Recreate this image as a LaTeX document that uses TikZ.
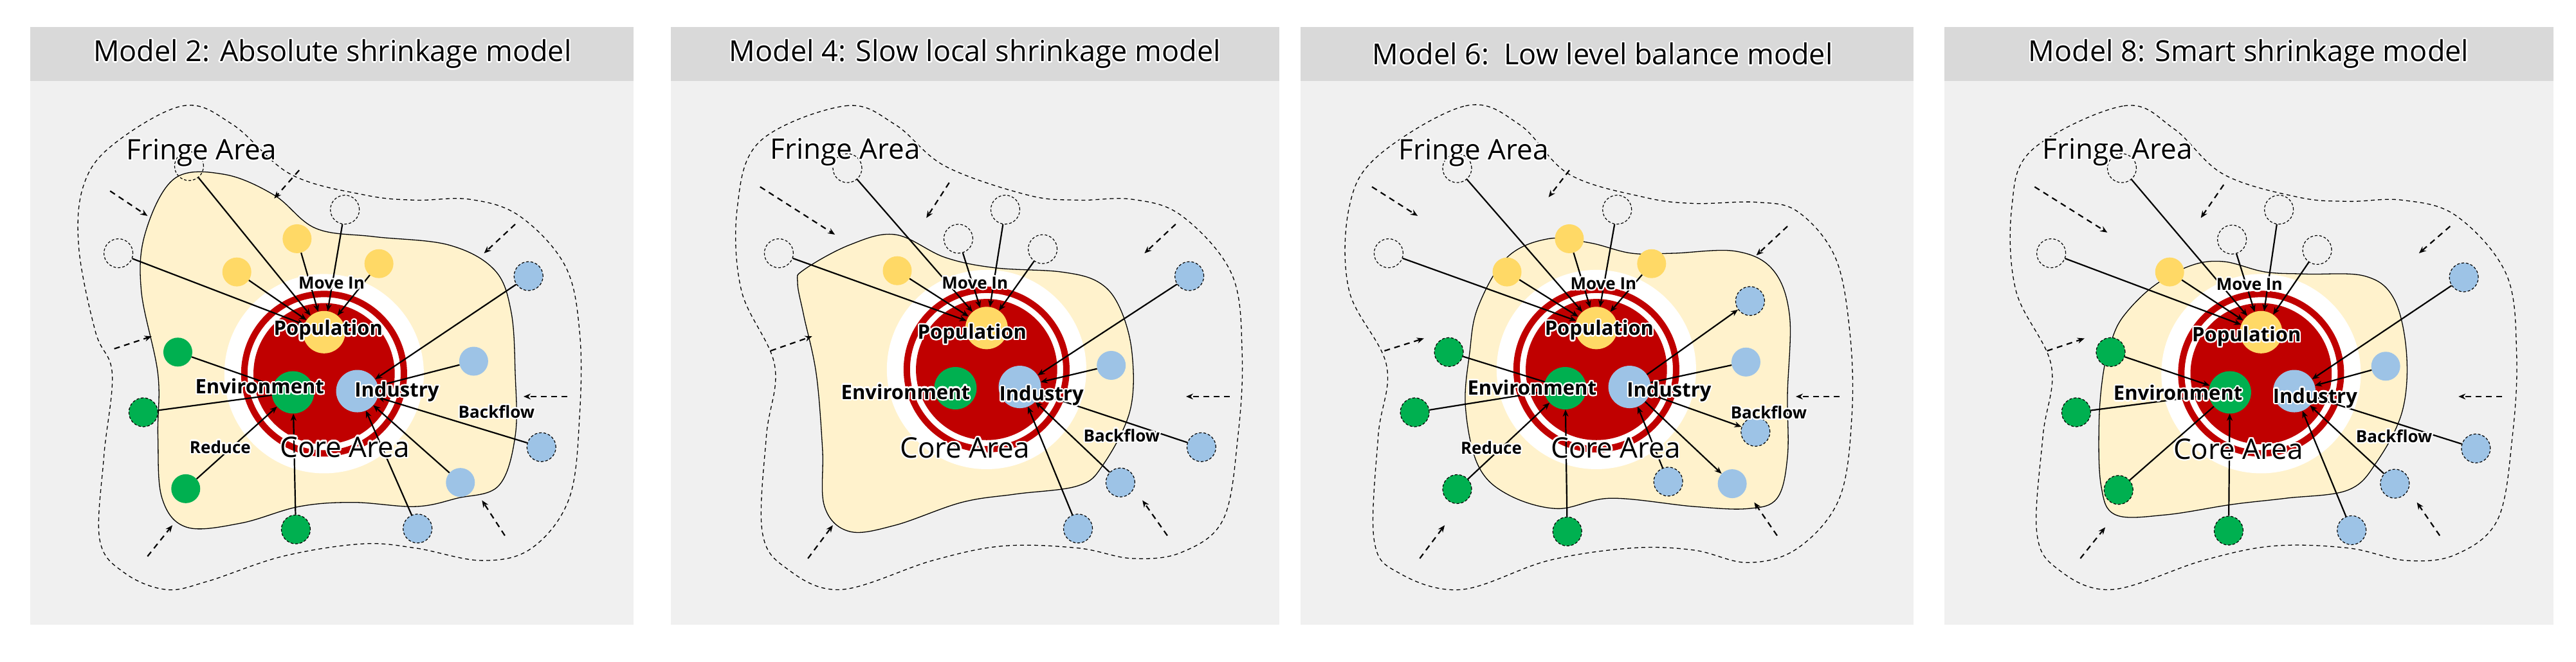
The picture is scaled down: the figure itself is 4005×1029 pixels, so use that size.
\documentclass[tikz,border=0pt]{standalone}
\usepackage{fontspec}
\setmainfont{Open Sans}
\usepackage[copies]{contour}
\contourlength{2.2pt}
\usetikzlibrary{arrows.meta}
\definecolor{panelbg}{HTML}{F0F0F0}
\definecolor{headbg}{HTML}{D9D9D9}
\definecolor{beige}{HTML}{FFF2CC}
\definecolor{popy}{HTML}{FFD966}
\definecolor{envg}{HTML}{00B050}
\definecolor{indb}{HTML}{9DC3E6}
\definecolor{corered}{HTML}{C00000}
\newcommand{\hl}[1]{\contour{white}{#1}}
\tikzset{
  sat/.style={circle,inner sep=0pt,minimum size=45pt},
  hol/.style={sat,draw=black,line width=1.2pt,dash pattern=on 4pt off 3pt},
  yel/.style={sat,fill=popy},
  grn/.style={sat,fill=envg},
  grnd/.style={sat,fill=envg,draw=black,line width=1.2pt,dash pattern=on 4pt off 3pt},
  blu/.style={sat,fill=indb},
  blud/.style={sat,fill=indb,draw=black,line width=1.2pt,dash pattern=on 4pt off 3pt},
  coreball/.style={circle,inner sep=0pt,minimum size=66pt},
  conn/.style={line width=2.2pt,-{Stealth[length=11pt,width=9pt]}},
  line/.style={line width=2.2pt},
  darr/.style={line width=2.2pt,dash pattern=on 9pt off 7pt,-{Stealth[length=11pt,width=9pt]}},
  fringe/.style={line width=1.3pt,dash pattern=on 6pt off 5pt},
  blob/.style={fill=beige,draw=black,line width=1.3pt},
  ttl/.style={font=\fontsize{45}{50}\selectfont},
  big/.style={font=\fontsize{44}{48}\selectfont},
  lbl/.style={font=\bfseries\fontsize{31}{34}\selectfont},
  sml/.style={font=\bfseries\fontsize{26}{28}\selectfont},
}
\newcommand{\panelbox}[3]{% prefix, x0, x1
  \fill[panelbg] (#2,65) rectangle (#3,1505);
  \fill[headbg] (#2,65) rectangle (#3,195);
}
\newcommand{\mycore}[3]{% prefix, cx, cy
  \fill[white] (#2,#3) circle[radius=240];
  \draw[corered,line width=10pt] (#2,#3) circle[radius=192];
  \fill[corered] (#2,#3) circle[radius=170];
  \node[coreball,fill=popy] (#1pop) at (#2,{#3-100}) {};
  \node[coreball,fill=envg] (#1env) at ({#2-75},{#3+45}) {};
  \node[coreball,fill=indb] (#1ind) at ({#2+80},{#3+42}) {};
}
\begin{document}
\begin{tikzpicture}[x=1pt,y=-1pt]
\useasboundingbox (0,0) rectangle (4005,1029);
\fill[white] (0,0) rectangle (4005,1029);

% ================= Panel 1 =================
\begin{scope}[shift={(0,0)},x=0.646pt,y=-0.646pt]
\panelbox{p1}{72}{1525}
\node[ttl] (p1t) at (800,132) {\hl{Model 2: Absolute shrinkage model}};
\draw[fringe] plot[smooth cycle,tension=0.6] coordinates {(270,350)(440,255)(560,300)(700,420)(880,470)(1000,482)(1130,480)(1250,520)(1360,640)(1395,800)(1395,1000)(1370,1200)(1280,1320)(1160,1350)(1000,1320)(870,1310)(680,1340)(500,1400)(400,1420)(300,1380)(240,1300)(250,1100)(270,900)(230,800)(190,600)(200,450)};
\draw[blob] plot[smooth cycle,tension=0.6] coordinates {(420,430)(540,420)(660,470)(760,550)(900,570)(1080,590)(1190,650)(1230,750)(1240,900)(1240,1050)(1200,1170)(1100,1200)(1000,1220)(850,1210)(720,1220)(580,1260)(450,1270)(390,1200)(380,1050)(380,900)(340,700)(350,560)};
\draw[darr] (265,460) -- (355,520);
\draw[darr] (720,410) -- (660,478);
\draw[darr] (1240,540) -- (1165,610);
\draw[darr] (1365,955) -- (1260,955);
\draw[darr] (1215,1290) -- (1160,1205);
\draw[darr] (355,1340) -- (415,1265);
\draw[darr] (275,840) -- (365,810);
\mycore{p1}{780}{900}
\node[hol] (p1h1) at (285,610) {};
\node[hol] (p1h2) at (455,400) {};
\node[hol] (p1h3) at (830,505) {};
\node[yel] (p1y1) at (715,575) {};
\node[yel] (p1y2) at (570,655) {};
\node[yel] (p1y3) at (912,635) {};
\node[grn] (p1g1) at (428,848) {};
\node[grnd] (p1g2) at (345,993) {};
\node[grn] (p1g3) at (447,1177) {};
\node[grnd] (p1g4) at (712,1275) {};
\node[blud] (p1b1) at (1272,665) {};
\node[blu] (p1b2) at (1140,870) {};
\node[blud] (p1b3) at (1303,1077) {};
\node[blu] (p1b4) at (1108,1162) {};
\node[blud] (p1b5) at (1005,1273) {};
\draw[conn] (p1h1) -- (p1pop);
\draw[conn] (p1h2) -- (p1pop);
\draw[conn] (p1h3) -- (p1pop);
\draw[conn] (p1y1) -- (p1pop);
\draw[conn] (p1y2) -- (p1pop);
\draw[conn] (p1y3) -- (p1pop);
\draw[line] (p1g1) -- (p1env);
\draw[line] (p1g2) -- (p1env);
\draw[conn] (p1g3) -- (p1env);
\draw[conn] (p1g4) -- (p1env);
\draw[conn] (p1b1) -- (p1ind);
\draw[conn] (p1b2) -- (p1ind);
\draw[conn] (p1b3) -- (p1ind);
\draw[conn] (p1b4) -- (p1ind);
\draw[conn] (p1b5) -- (p1ind);
\node[big] (p1fa) at (485,370) {\hl{Fringe Area}};
\node[sml] (p1mi) at (798,683) {\hl{Move In}};
\node[lbl] (p1pl) at (790,797) {\hl{Population}};
\node[lbl] (p1el) at (625,932) {\hl{Environment}};
\node[lbl] (p1il) at (955,945) {\hl{Industry}};
\node[sml] (p1bf) at (1195,993) {\hl{Backflow}};
\node[sml] (p1rd) at (530,1078) {\hl{Reduce}};
\node[big] (p1ca) at (830,1078) {\hl{Core Area}};
\end{scope}

% ================= Panel 2 =================
\begin{scope}[shift={(1030,0)},x=0.646pt,y=-0.646pt]
\panelbox{p2}{20}{1485}
\node[ttl] (p2t) at (752,132) {\hl{Model 4: Slow local shrinkage model}};
\draw[fringe] plot[smooth cycle,tension=0.6] coordinates {(235,340)(440,255)(560,300)(680,400)(880,470)(1000,482)(1130,480)(1250,520)(1370,660)(1395,850)(1385,1050)(1350,1250)(1250,1330)(1130,1345)(1000,1320)(820,1315)(650,1350)(430,1420)(300,1370)(240,1280)(250,1050)(270,880)(190,700)(180,500)};
\draw[blob] plot[smooth cycle,tension=0.6] coordinates {(340,650)(450,590)(560,565)(680,620)(800,645)(960,655)(1050,680)(1100,740)(1130,850)(1125,990)(1060,1120)(1000,1170)(850,1190)(720,1210)(560,1265)(450,1280)(390,1220)(385,1080)(370,900)(340,760)(325,680)};
\draw[darr] (235,450) -- (415,565);
\draw[darr] (690,440) -- (635,525);
\draw[darr] (1235,540) -- (1160,610);
\draw[darr] (1365,955) -- (1260,955);
\draw[darr] (1215,1290) -- (1155,1205);
\draw[darr] (350,1345) -- (410,1265);
\draw[darr] (260,845) -- (360,810);
\mycore{p2}{780}{890}
\node[hol] (p2h1) at (280,610) {};
\node[hol] (p2h2) at (445,405) {};
\node[hol] (p2h3) at (712,575) {};
\node[hol] (p2h4) at (825,505) {};
\node[hol] (p2h5) at (915,600) {};
\node[yel] (p2y1) at (565,652) {};
\node[blud] (p2b1) at (1268,665) {};
\node[blu] (p2b2) at (1080,880) {};
\node[blud] (p2b3) at (1297,1077) {};
\node[blud] (p2b4) at (1102,1162) {};
\node[blud] (p2b5) at (1000,1273) {};
\draw[conn] (p2h1) -- (p2pop);
\draw[conn] (p2h2) -- (p2pop);
\draw[conn] (p2h3) -- (p2pop);
\draw[conn] (p2h4) -- (p2pop);
\draw[conn] (p2h5) -- (p2pop);
\draw[conn] (p2y1) -- (p2pop);
\draw[conn] (p2b1) -- (p2ind);
\draw[conn] (p2b2) -- (p2ind);
\draw[conn] (p2b3) -- (p2ind);
\draw[conn] (p2b4) -- (p2ind);
\draw[conn] (p2b5) -- (p2ind);
\node[big] (p2fa) at (440,368) {\hl{Fringe Area}};
\node[sml] (p2mi) at (752,683) {\hl{Move In}};
\node[lbl] (p2pl) at (745,806) {\hl{Population}};
\node[lbl] (p2el) at (585,945) {\hl{Environment}};
\node[lbl] (p2il) at (912,955) {\hl{Industry}};
\node[sml] (p2bf) at (1105,1050) {\hl{Backflow}};
\node[big] (p2ca) at (728,1080) {\hl{Core Area}};
\end{scope}

% ================= Panel 3 =================
\begin{scope}[shift={(2020,0)},x=0.646pt,y=-0.646pt]
\panelbox{p3}{3}{1478}
\node[ttl] (p3t) at (730,132) {\hl{Model 6:\ \ Low level balance model}};
\draw[fringe] plot[smooth cycle,tension=0.6] coordinates {(190,375)(400,255)(530,300)(650,420)(830,475)(950,490)(1100,487)(1200,510)(1290,620)(1325,800)(1330,1000)(1300,1200)(1200,1320)(1080,1355)(950,1325)(800,1320)(600,1350)(390,1420)(240,1380)(180,1300)(190,1050)(210,880)(120,700)(120,500)};
\draw[blob] plot[smooth cycle,tension=0.6] coordinates {(430,740)(500,620)(600,575)(700,585)(800,610)(900,610)(1050,605)(1140,650)(1180,760)(1175,950)(1175,1100)(1150,1200)(1080,1225)(950,1220)(750,1200)(620,1225)(500,1190)(430,1120)(400,980)(410,850)};
\draw[darr] (175,450) -- (285,520);
\draw[darr] (650,410) -- (600,475);
\draw[darr] (1175,545) -- (1100,615);
\draw[darr] (1300,955) -- (1195,955);
\draw[darr] (1150,1290) -- (1095,1210);
\draw[darr] (290,1345) -- (350,1265);
\draw[darr] (205,845) -- (300,815);
\mycore{p3}{715}{890}
\node[hol] (p3h1) at (215,610) {};
\node[hol] (p3h2) at (380,405) {};
\node[hol] (p3h3) at (765,505) {};
\node[yel] (p3y1) at (650,575) {};
\node[yel] (p3y2) at (500,655) {};
\node[yel] (p3y3) at (848,635) {};
\node[grnd] (p3g1) at (360,848) {};
\node[grnd] (p3g2) at (278,993) {};
\node[grnd] (p3g3) at (380,1178) {};
\node[grnd] (p3g4) at (645,1280) {};
\node[blud] (p3b1) at (1085,725) {};
\node[blu] (p3b2) at (1075,872) {};
\node[blud] (p3b3) at (1098,1040) {};
\node[blud] (p3b4) at (888,1160) {};
\node[blu] (p3b5) at (1042,1165) {};
\draw[conn] (p3h1) -- (p3pop);
\draw[conn] (p3h2) -- (p3pop);
\draw[conn] (p3h3) -- (p3pop);
\draw[conn] (p3y1) -- (p3pop);
\draw[conn] (p3y2) -- (p3pop);
\draw[conn] (p3y3) -- (p3pop);
\draw[line] (p3g1) -- (p3env);
\draw[line] (p3g2) -- (p3env);
\draw[conn] (p3g3) -- (p3env);
\draw[conn] (p3g4) -- (p3env);
\draw[conn] (p3ind) -- (p3b1);
\draw[line] (p3b2) -- (p3ind);
\draw[conn] (p3ind) -- (p3b3);
\draw[conn] (p3b4) -- (p3ind);
\draw[conn] (p3ind) -- (p3b5);
\node[big] (p3fa) at (420,370) {\hl{Fringe Area}};
\node[sml] (p3mi) at (732,685) {\hl{Move In}};
\node[lbl] (p3pl) at (722,797) {\hl{Population}};
\node[lbl] (p3el) at (560,935) {\hl{Environment}};
\node[lbl] (p3il) at (890,945) {\hl{Industry}};
\node[sml] (p3bf) at (1130,995) {\hl{Backflow}};
\node[sml] (p3rd) at (462,1080) {\hl{Reduce}};
\node[big] (p3ca) at (762,1080) {\hl{Core Area}};
\end{scope}

% ================= Panel 4 =================
\begin{scope}[shift={(3005,0)},x=0.646pt,y=-0.646pt]
\panelbox{p4}{28}{1493}
\node[ttl] (p4t) at (760,132) {\hl{Model 8: Smart shrinkage model}};
\draw[fringe] plot[smooth cycle,tension=0.6] coordinates {(240,360)(460,255)(580,310)(700,420)(880,475)(1000,485)(1130,482)(1260,520)(1380,660)(1405,850)(1395,1050)(1360,1250)(1260,1335)(1140,1350)(1000,1320)(820,1315)(650,1350)(430,1420)(300,1370)(250,1280)(265,1050)(285,880)(200,700)(190,500)};
\draw[blob] plot[smooth cycle,tension=0.6] coordinates {(460,760)(530,690)(620,640)(700,630)(800,655)(900,660)(1040,665)(1110,720)(1140,850)(1130,990)(1070,1110)(1000,1180)(850,1200)(720,1215)(560,1240)(440,1240)(405,1170)(400,1020)(410,900)(430,820)};
\draw[darr] (245,450) -- (420,560);
\draw[darr] (700,445) -- (645,525);
\draw[darr] (1245,545) -- (1170,610);
\draw[darr] (1370,955) -- (1265,955);
\draw[darr] (1220,1290) -- (1165,1210);
\draw[darr] (355,1345) -- (415,1270);
\draw[darr] (275,845) -- (365,815);
\mycore{p4}{790}{900}
\node[hol] (p4h1) at (285,610) {};
\node[hol] (p4h2) at (455,405) {};
\node[hol] (p4h3) at (720,577) {};
\node[hol] (p4h4) at (833,505) {};
\node[hol] (p4h5) at (925,602) {};
\node[yel] (p4y1) at (570,655) {};
\node[grnd] (p4g1) at (428,848) {};
\node[grnd] (p4g2) at (345,993) {};
\node[grnd] (p4g3) at (447,1180) {};
\node[grnd] (p4g4) at (712,1278) {};
\node[blud] (p4b1) at (1278,668) {};
\node[blu] (p4b2) at (1090,882) {};
\node[blud] (p4b3) at (1307,1080) {};
\node[blud] (p4b4) at (1112,1165) {};
\node[blud] (p4b5) at (1008,1277) {};
\draw[conn] (p4h1) -- (p4pop);
\draw[conn] (p4h2) -- (p4pop);
\draw[conn] (p4h3) -- (p4pop);
\draw[conn] (p4h4) -- (p4pop);
\draw[conn] (p4h5) -- (p4pop);
\draw[conn] (p4y1) -- (p4pop);
\draw[conn] (p4g1) -- (p4env);
\draw[line] (p4g2) -- (p4env);
\draw[line] (p4g3) -- (p4env);
\draw[conn] (p4g4) -- (p4env);
\draw[conn] (p4b1) -- (p4ind);
\draw[conn] (p4b2) -- (p4ind);
\draw[conn] (p4b3) -- (p4ind);
\draw[conn] (p4b4) -- (p4ind);
\draw[conn] (p4b5) -- (p4ind);
\node[big] (p4fa) at (445,368) {\hl{Fringe Area}};
\node[sml] (p4mi) at (762,687) {\hl{Move In}};
\node[lbl] (p4pl) at (755,812) {\hl{Population}};
\node[lbl] (p4el) at (590,948) {\hl{Environment}};
\node[lbl] (p4il) at (920,960) {\hl{Industry}};
\node[sml] (p4bf) at (1110,1052) {\hl{Backflow}};
\node[big] (p4ca) at (735,1083) {\hl{Core Area}};
\end{scope}
\end{tikzpicture}
\end{document}
